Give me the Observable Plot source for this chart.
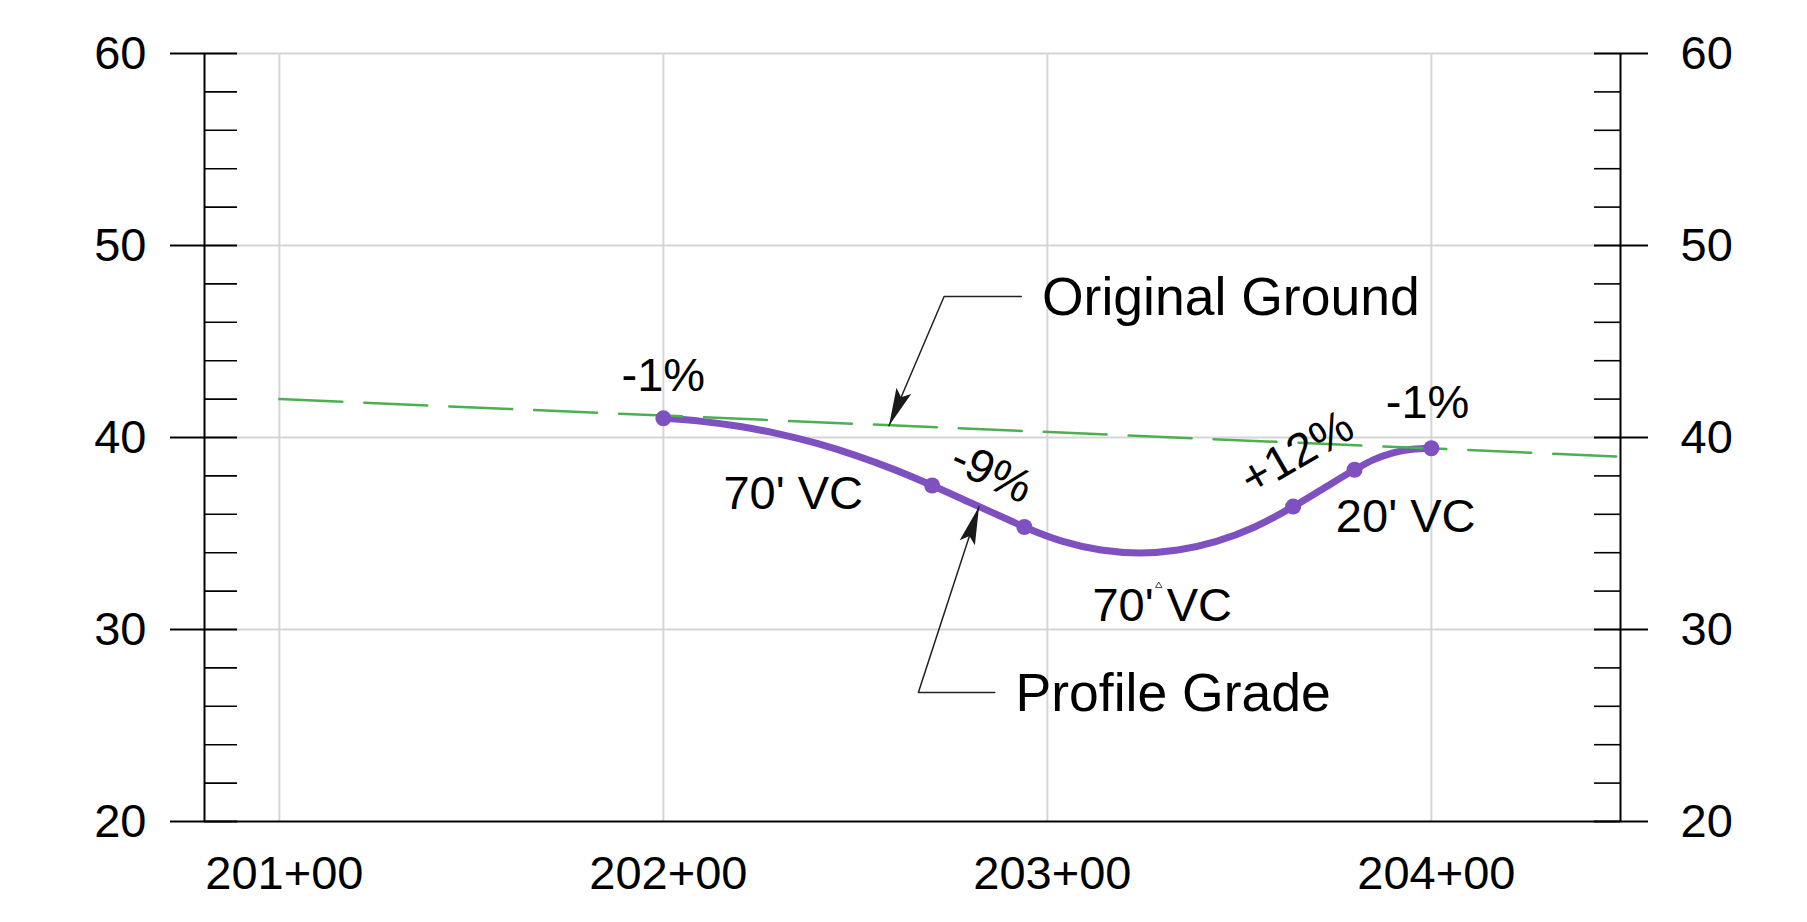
<!DOCTYPE html>
<html>
<head>
<meta charset="utf-8">
<script src="https://cdn.jsdelivr.net/npm/d3@7"></script>
<script src="https://cdn.jsdelivr.net/npm/@observablehq/plot@0.6"></script>
<style>
  html, body { margin: 0; padding: 0; background: #fff; }
  svg { display: block; }
</style>
</head>
<body>
<div id="chart"></div>
<script>
// ---------- data ----------
const xDomain = [20080.5, 20449.25];
const yDomain = [20, 60];
const xStations = [20100, 20200, 20300, 20400];
const xTickLabels = ["201+00", "202+00", "203+00", "204+00"];
const yTicks = [20, 30, 40, 50, 60];
const yMinorTicks = [22, 24, 26, 28, 32, 34, 36, 38, 42, 44, 46, 48, 52, 54, 56, 58];
const yGrid = [30, 40, 50, 60];

// Original ground (dashed green)
const groundStations = [20100, 20450];
const groundElev = [42.0, 39.0];

// Profile grade (purple)
const profileStations = [20200, 20210, 20220, 20230, 20240, 20250, 20260, 20270, 20280, 20290, 20294,
  20304, 20314, 20324, 20334, 20344, 20354, 20364, 20372, 20380, 20385, 20390, 20395, 20400];
const profileElev = [41.00, 40.84, 40.57, 40.19, 39.69, 39.07, 38.34, 37.50, 36.60, 35.70, 35.34,
  34.59, 34.14, 33.99, 34.14, 34.59, 35.34, 36.40, 37.36, 38.32, 38.85, 39.20, 39.39, 39.44];

// Curve points (PVC / PVT dots)
const pointStations = [20200, 20270, 20294, 20364, 20380, 20400];
const pointElev = [41.00, 37.50, 35.34, 36.40, 38.32, 39.44];

// Grade labels
const gradeText = ["-1%", "-9%", "+12%", "-1%"];
const gradeStations = [20200, 20285.5, 20365, 20399];
const gradeElev = [43.2, 38.15, 39.2, 41.8];

// Vertical-curve labels
const vcText = ["70' VC", "70' VC", "20' VC"];
const vcStations = [20233.8, 20329.9, 20393.3];
const vcElev = [37.07, 31.23, 35.84];

// Callouts
const calloutText = ["Original Ground", "Profile Grade"];
const calloutStations = [20298.6, 20291.7];
const calloutElev = [47.29, 26.67];

// Leader lines (elbow + pointer), one per callout
const leaderId = ["og", "og", "og", "pg", "pg", "pg"];
const leaderStations = [20293.2, 20273.1, 20258.75, 20286.3, 20266.4, 20282.2];
const leaderElev = [47.34, 47.34, 40.61, 26.72, 26.72, 36.40];

// Arrow tips
const tipStations = [20258.75, 20282.2];
const tipElev = [40.61, 36.40];

// small marker near the second VC label
const markStations = [20329];
const markElev = [32.28];

// ---------- build rows ----------
const zip = (xs, ys, extra = {}) => xs.map((x, i) => {
  const o = {x, y: ys[i], i};
  for (const k in extra) o[k] = extra[k][i];
  return o;
});
const ground = zip(groundStations, groundElev);
const profile = zip(profileStations, profileElev);
const points = zip(pointStations, pointElev);
const grades = zip(gradeStations, gradeElev, {t: gradeText});
const vcs = zip(vcStations, vcElev, {t: vcText});
const callouts = zip(calloutStations, calloutElev, {t: calloutText});
const leaders = zip(leaderStations, leaderElev, {id: leaderId});
const tips = zip(tipStations, tipElev);
const marks2 = zip(markStations, markElev);

const xLabel = d => xTickLabels[xStations.indexOf(d)];

const dart = {
  draw(ctx) {
    ctx.moveTo(0, 0);
    ctx.lineTo(8, 38);
    ctx.lineTo(0, 31);
    ctx.lineTo(-8, 38);
    ctx.closePath();
  }
};

const purple = "#7e50c0";
const green = "#4caf50";
const gridColor = "#d6d6d6";

const chart = Plot.plot({
  width: 1807,
  height: 922,
  marginLeft: 204,
  marginRight: 187,
  marginTop: 53,
  marginBottom: 101,
  x: {domain: xDomain},
  y: {domain: yDomain},
  style: {fontFamily: "'Liberation Sans', Arial, sans-serif", color: "black", background: "#fff"},
  marks: [
    // grid
    Plot.ruleX(xStations, {stroke: gridColor, strokeWidth: 2}),
    Plot.ruleY(yGrid, {stroke: gridColor, strokeWidth: 2}),
    // frame lines (left, right, bottom)
    Plot.ruleX(xDomain, {stroke: "black", strokeWidth: 2}),
    Plot.ruleY([yDomain[0]], {stroke: "black", strokeWidth: 2.2}),
    // profile
    Plot.line(profile, {x: "x", y: "y", stroke: purple, strokeWidth: 7, curve: "monotone-x"}),
    // original ground
    Plot.line(ground, {x: "x", y: "y", stroke: green, strokeWidth: 2.5, strokeDasharray: "63,22"}),
    Plot.dot(points, {x: "x", y: "y", r: 8, fill: purple}),
    // leaders
    Plot.line(leaders, {x: "x", y: "y", z: "id", stroke: "#222", strokeWidth: 1.5}),
    Plot.dot(tips, {x: "x", y: "y", symbol: dart, r: 10, fill: "#1a1a1a", stroke: "none",
      rotate: d => [203, 18][d.i]}),
    Plot.dot(marks2, {x: "x", y: "y", symbol: "triangle", r: 2.4, fill: "none", stroke: "#333", strokeWidth: 0.9}),
    // labels
    Plot.text(grades, {x: "x", y: "y", text: "t", fontSize: 47, fill: "black", textAnchor: "middle",
      rotate: d => [0, 25, -30, 0][d.i]}),
    Plot.text(vcs, {x: "x", y: "y", text: "t", fontSize: 47, fill: "black", textAnchor: "middle"}),
    Plot.text(callouts, {x: "x", y: "y", text: "t", fontSize: 53.5, fill: "black", textAnchor: "start"}),
    // left axis
    Plot.axisY(yTicks, {anchor: "left", tickSize: 34, tickPadding: 24, fontSize: 47, strokeWidth: 2, label: null}),
    Plot.axisY(yTicks, {anchor: "left", tickSize: 33, dx: 33, fill: "none", strokeWidth: 2, label: null}),
    Plot.axisY(yMinorTicks, {anchor: "left", tickSize: 33, dx: 33, fill: "none", strokeWidth: 1.6, label: null}),
    // right axis
    Plot.axisY(yTicks, {anchor: "right", tickSize: 27, tickPadding: 33, fontSize: 47, strokeWidth: 2, label: null}),
    Plot.axisY(yTicks, {anchor: "right", tickSize: 27, dx: -27, fill: "none", strokeWidth: 2, label: null}),
    Plot.axisY(yMinorTicks, {anchor: "right", tickSize: 27, dx: -27, fill: "none", strokeWidth: 1.6, label: null}),
    // bottom axis labels
    Plot.axisX(xStations, {anchor: "bottom", tickSize: 0, tickPadding: 34, dx: 5, fontSize: 47, tickFormat: xLabel, label: null})
  ]
});
document.getElementById("chart").appendChild(chart);
</script>
</body>
</html>
